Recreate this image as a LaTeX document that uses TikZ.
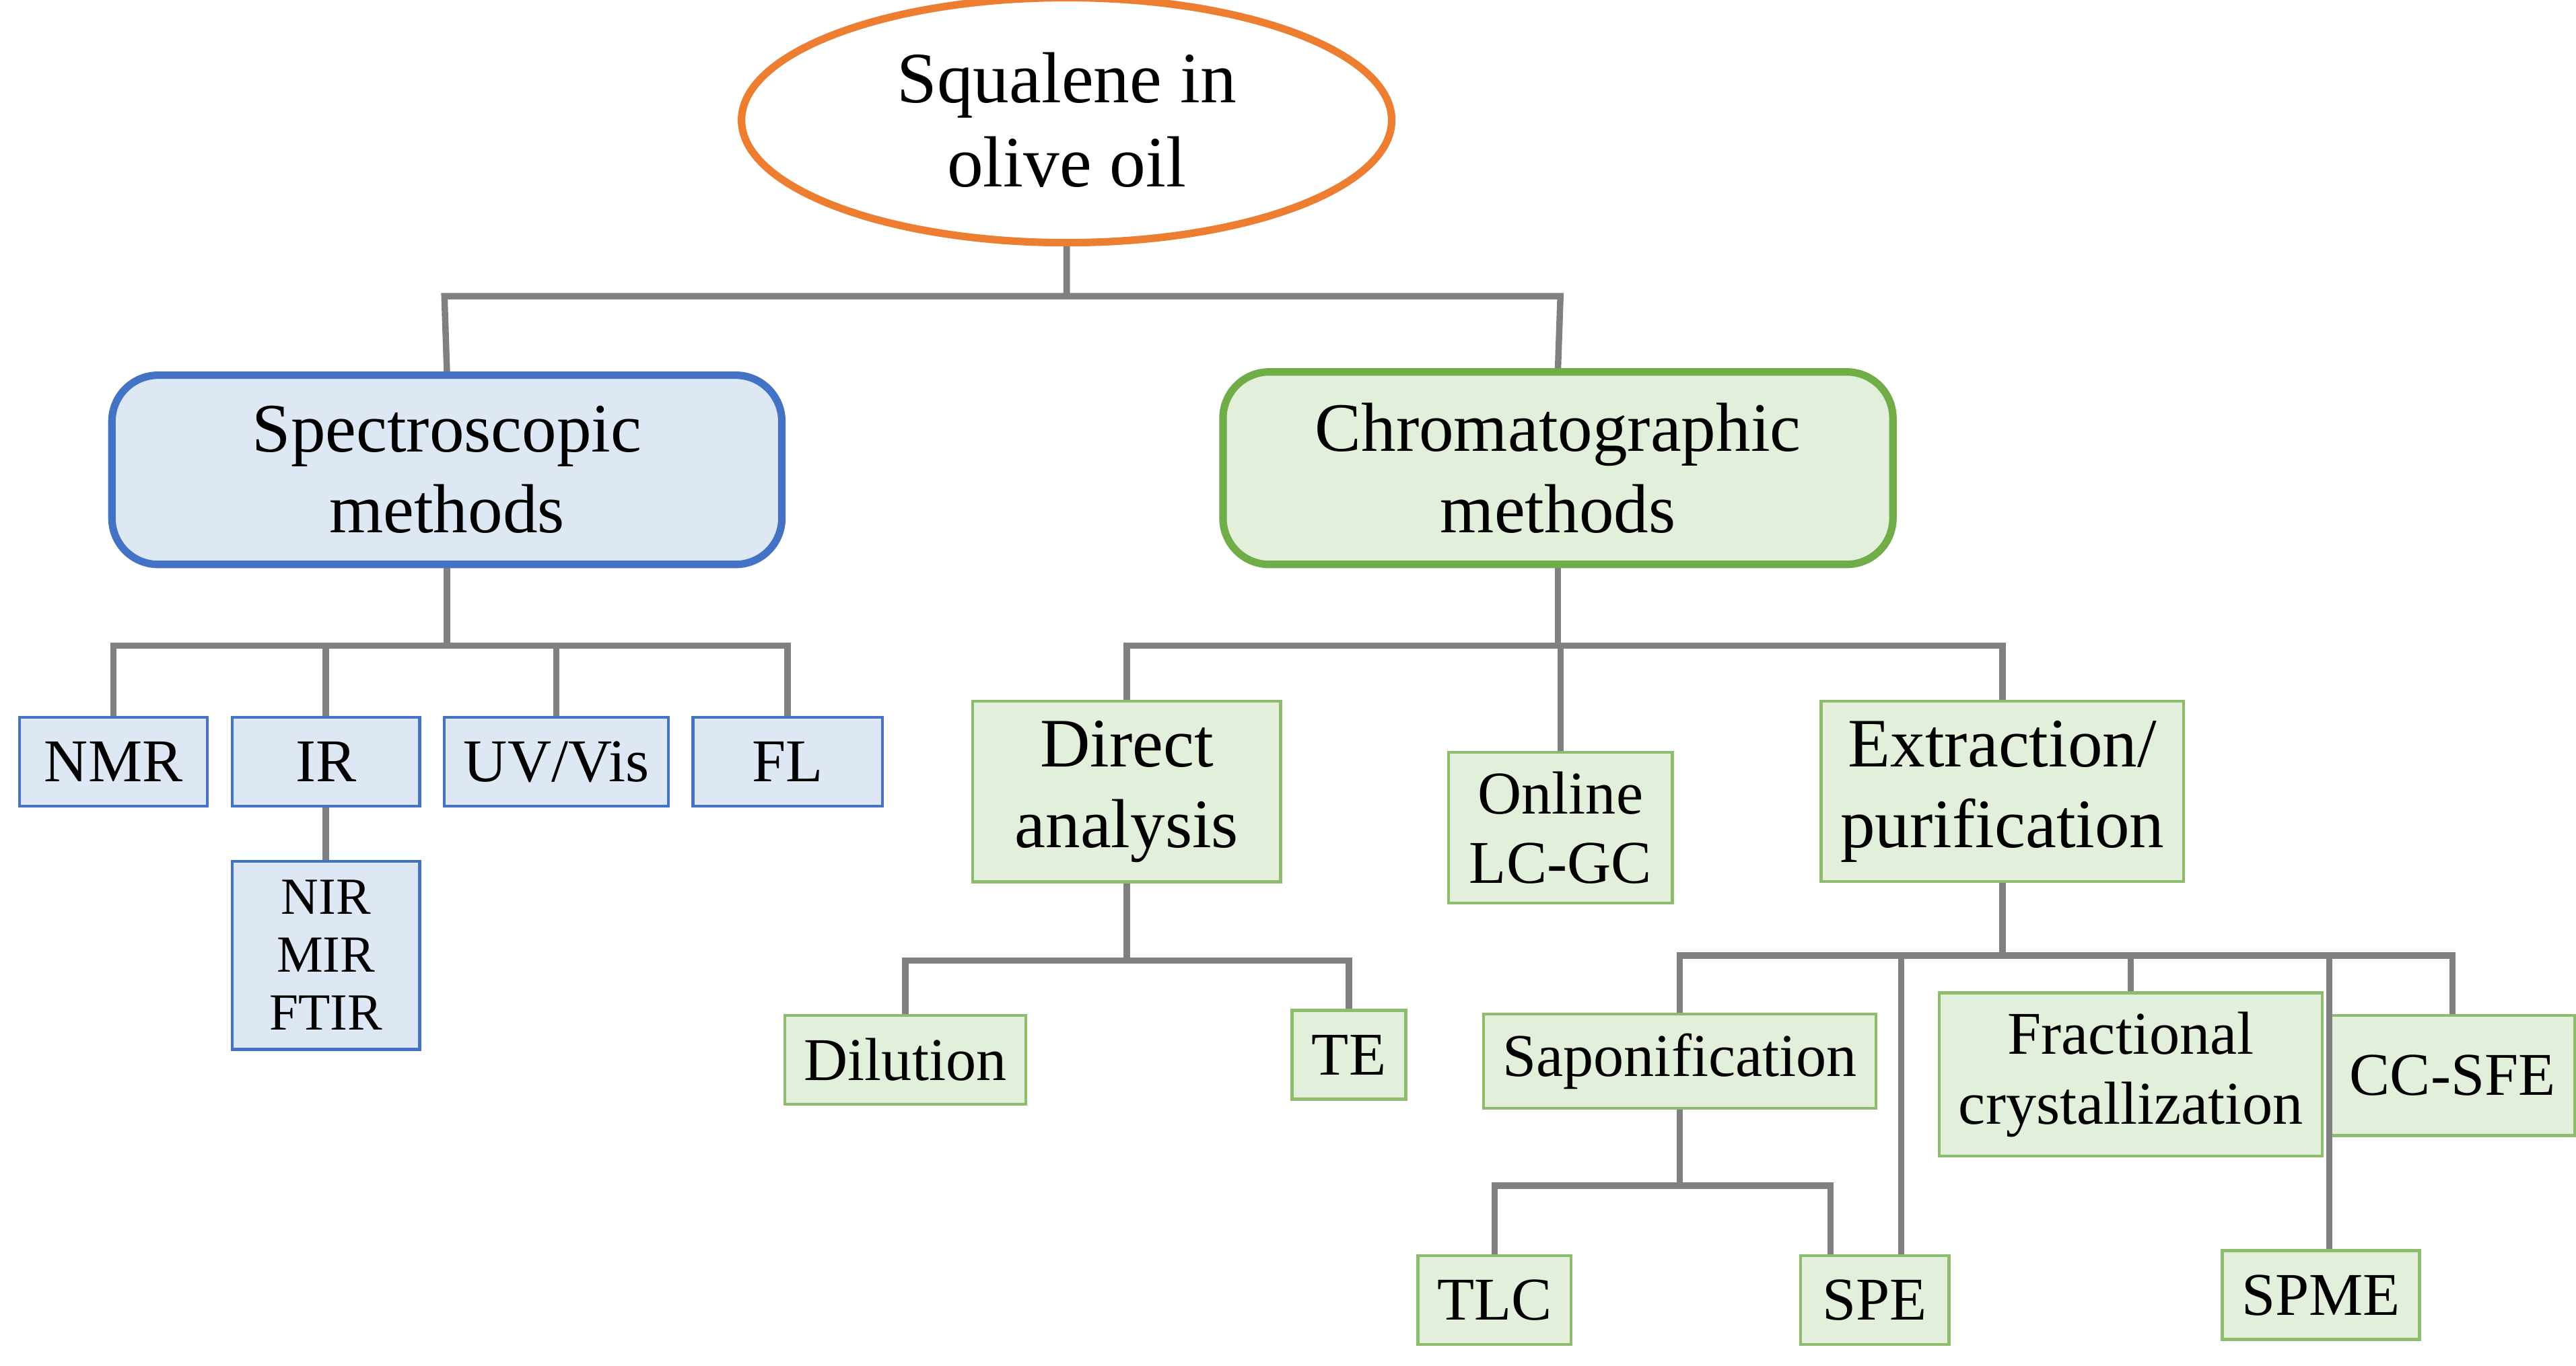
\documentclass[tikz,border=0pt]{standalone}
\usepackage{fontspec}
\setmainfont{Liberation Serif}
\usetikzlibrary{shapes.geometric,calc}
\definecolor{bluefill}{HTML}{DEE8F5}
\definecolor{blueline}{HTML}{4472C4}
\definecolor{greenfill}{HTML}{E2EFDA}
\definecolor{greenline}{HTML}{70AD47}
\definecolor{orangeline}{HTML}{ED7D31}
\tikzset{
  bigbox/.style={draw, rounded corners=8pt, line width=1.3pt, align=center,
    font=\fontsize{12}{14}\selectfont},
  spbox/.style={draw=blueline, fill=bluefill, line width=0.5pt, align=center,
    minimum height=0.54cm, font=\fontsize{10.5}{12}\selectfont},
  chbox/.style={draw=greenline!80, fill=greenfill, line width=0.5pt, align=center,
    minimum height=0.54cm, font=\fontsize{10.5}{12}\selectfont},
  link/.style={draw=gray, line width=1.1pt},
}
\begin{document}
\begin{tikzpicture}
        \useasboundingbox (0,0) rectangle (15.65,-8.30);
        % top
        \node[ellipse, draw=orangeline, line width=1.3pt, minimum width=3.95cm, minimum height=1.22cm,
              align=center, font=\fontsize{12.5}{14.5}\selectfont] (SQUALENE) at (6.48,-0.73) {Squalene in\\olive oil};
        \node[bigbox, draw=blueline, fill=bluefill, minimum width=4.07cm, minimum height=1.15cm] (SPEC) at (2.715,-2.855) {Spectroscopic\\methods};
        \node[bigbox, draw=greenline, fill=greenfill, minimum width=4.07cm, minimum height=1.17cm] (CHROM) at (9.465,-2.845) {Chromatographic\\methods};
        % spectroscopic
        \node[spbox, minimum width=1.14cm] (NMR) at (0.69,-4.63) {NMR};
        \node[spbox, minimum width=1.14cm] (IR) at (1.98,-4.63) {IR};
        \node[spbox, minimum width=1.36cm] (UVVIS) at (3.38,-4.63) {UV/Vis};
        \node[spbox, minimum width=1.15cm] (FL) at (4.785,-4.63) {FL};
        \node[spbox, minimum width=1.14cm, minimum height=0.95cm, font=\fontsize{9}{10}\selectfont] (NIR) at (1.98,-5.805) {NIR\\MIR\\FTIR};
        % chromatographic
        \node[chbox, minimum width=1.87cm, minimum height=0.94cm, font=\fontsize{12}{14}\selectfont] (DIRECT) at (6.845,-4.81) {Direct\\analysis};
        \node[chbox, minimum width=1.36cm, minimum height=0.74cm] (ONLINE) at (9.48,-5.03) {Online\\LC-GC};
        \node[chbox, minimum width=2.09cm, minimum height=0.96cm, font=\fontsize{12}{14}\selectfont] (EXTRACT) at (12.165,-4.81) {Extraction/\\purification};
        \node[chbox, minimum width=1.36cm] (DILUTION) at (5.50,-6.44) {Dilution};
        \node[chbox, minimum width=0.69cm] (TE) at (8.195,-6.41) {TE};
        \node[chbox, minimum width=2.23cm] (SAPON) at (10.205,-6.45) {Saponification};
        \node[chbox, minimum width=2.21cm, minimum height=0.74cm] (FRACT) at (12.945,-6.53) {Fractional\\crystallization};
        \node[chbox, minimum width=1.36cm, minimum height=0.73cm] (CCSFE) at (14.90,-6.535) {CC-SFE};
        \node[chbox, minimum width=0.88cm] (TLC) at (9.08,-7.90) {TLC};
        \node[chbox, minimum width=0.90cm] (SPE) at (11.39,-7.90) {SPE};
        \node[chbox, minimum width=1.08cm] (SPME) at (14.10,-7.87) {SPME};
        % connectors
        \draw[link] (SQUALENE.south) |- (2.70,-1.80) coordinate (BRANCH_A) -- (SPEC.north);
        \draw[link] (SQUALENE.south) |- (9.48,-1.80) coordinate (BRANCH_B) -- (CHROM.north);
        \foreach \n in {NMR,IR,UVVIS,FL}
            \draw[link] (SPEC.south) -- ++(0,-0.47) -| (\n.north);
        \draw[link] (IR.south) -- (NIR.north);
        \foreach \n in {DIRECT,ONLINE,EXTRACT}
            \draw[link] (CHROM.south) -- ++(0,-0.47) -| (\n.north);
        \foreach \n in {DILUTION,TE}
            \draw[link] (DIRECT.south) -- ++(0,-0.47) -| (\n.north);
        \foreach \n in {SAPON,FRACT,CCSFE}
            \draw[link] (EXTRACT.south) -- ++(0,-0.44) -| (\n.north);
        \draw[link] (EXTRACT.south) -- ++(0,-0.44) -| ($(SPE.north)+(0.16,0)$);
        \draw[link] (EXTRACT.south) -- ++(0,-0.44) -| ($(SPME.north)+(0.05,0)$);
        \draw[link] (SAPON.south) -- ++(0,-0.46) -| (TLC.north);
        \draw[link] (SAPON.south) -- ++(0,-0.46) -| ($(SPE.north)+(-0.27,0)$);
\end{tikzpicture}
\end{document}
